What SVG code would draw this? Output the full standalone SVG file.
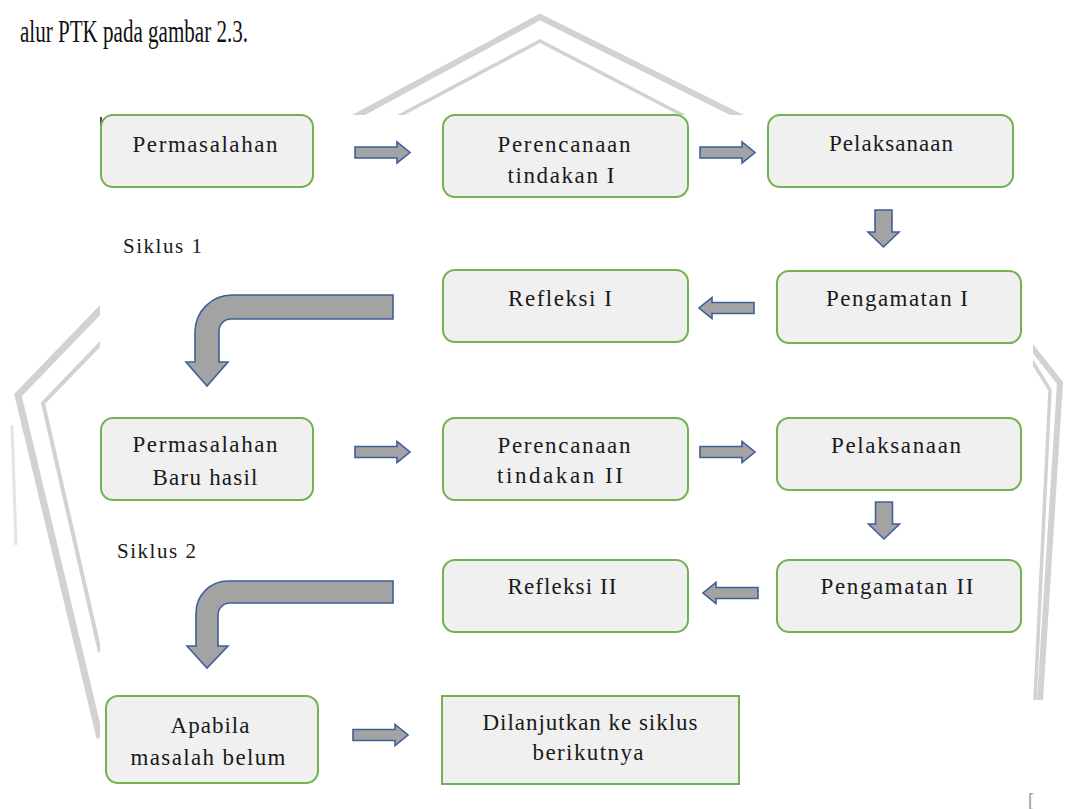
<svg xmlns="http://www.w3.org/2000/svg" width="1065" height="809" viewBox="0 0 1065 809">
<style>
.bg{fill:#ffffff}
.wm{fill:none;stroke:#d2d2d2;stroke-linejoin:miter}
.box{fill:#f0f0f0;stroke:#74b24f;stroke-width:2}
.t{font-family:"Liberation Serif","Times New Roman",serif;font-size:23px;fill:#1a1a1a;text-anchor:middle}
.lbl{font-family:"Liberation Serif","Times New Roman",serif;font-size:21px;fill:#1a1a1a}
.arr{fill:#a3a3a3;stroke:#3f5f98;stroke-width:1.6;stroke-linejoin:miter}
</style>
<defs>
<path id="ra" d="M0,-5.5 H42 V-10.5 L55,0 L42,10.5 V5.5 H0 Z"/>
<path id="da" d="M-8.5,0 H8.5 V22 H15.5 L0,37 L-15.5,22 H-8.5 Z"/>
</defs>
<rect class="bg" x="0" y="0" width="1065" height="809"/>
<g id="watermark">
<polyline class="wm" stroke-width="6" points="353,118 540,17 743,118"/>
<polyline class="wm" stroke-width="3.5" points="395,118 540,41 688,118"/>
<polyline class="wm" stroke-width="7" points="104,306 18,395 100,738"/>
<polyline class="wm" stroke-width="4" points="104,340 43,403 100,652"/>
<polyline class="wm" stroke-width="3" opacity="0.6" points="12,425 16,545"/>
<polyline class="wm" stroke-width="6" points="1030,345 1060,383 1040,700"/>
<polyline class="wm" stroke-width="3.5" points="1030,358 1050,390 1035,700"/>
</g>
<rect class="bg" x="100" y="115" width="933" height="694"/>
<line x1="101" y1="117" x2="101" y2="125" stroke="#111" stroke-width="1.5"/>
<line x1="101" y1="125" x2="101" y2="133" stroke="#9a4ad8" stroke-width="1.5"/>
<text x="20" y="42" style="font-family:'Liberation Serif','Times New Roman',serif;font-size:31px" fill="#111" textLength="228" lengthAdjust="spacingAndGlyphs">alur PTK pada gambar 2.3.</text>
<text x="1028" y="806" font-family="Liberation Sans, Arial, sans-serif" font-size="18" fill="#9a9a9a">[</text>

<g id="connectors">
<use href="#ra" class="arr" transform="translate(355,152.5)"/>
<use href="#ra" class="arr" transform="translate(700,152.5)"/>
<use href="#da" class="arr" transform="translate(883.5,210)"/>
<use href="#ra" class="arr" transform="translate(754,308) scale(-1,1)"/>
<path class="arr" d="M393,295 H232 A37,37 0 0 0 195,332 V362 H186 L207,386 L228,362 H219 V331 A12,12 0 0 1 231,319 H393 Z"/>
<use href="#ra" class="arr" transform="translate(355,452)"/>
<use href="#ra" class="arr" transform="translate(700,452)"/>
<use href="#da" class="arr" transform="translate(884,502)"/>
<use href="#ra" class="arr" transform="translate(758,593) scale(-1,1)"/>
<path class="arr" d="M393,581 H228 A32,32 0 0 0 196,613 V646 H187 L207,668 L228,646 H218 V615 A12,12 0 0 1 230,603 H393 Z"/>
<use href="#ra" class="arr" transform="translate(353,735)"/>
</g>

<g id="n-permasalahan1">
<rect class="box" x="101" y="115" width="212" height="72" rx="12"/>
<text class="t" x="205" y="152" textLength="145" lengthAdjust="spacing">Permasalahan</text>
</g>
<g id="n-perencanaan1">
<rect class="box" x="443" y="115" width="245" height="82" rx="12"/>
<text class="t" x="564" y="152" textLength="133" lengthAdjust="spacing">Perencanaan</text>
<text class="t" x="561" y="183" textLength="107" lengthAdjust="spacing">tindakan I</text>
</g>
<g id="n-pelaksanaan1">
<rect class="box" x="768" y="115" width="245" height="72" rx="12"/>
<text class="t" x="891" y="151" textLength="124" lengthAdjust="spacing">Pelaksanaan</text>
</g>
<text class="lbl" x="123" y="253" textLength="79" lengthAdjust="spacing">Siklus 1</text>
<g id="n-refleksi1">
<rect class="box" x="443" y="270" width="245" height="72" rx="12"/>
<text class="t" x="560" y="306" textLength="104" lengthAdjust="spacing">Refleksi I</text>
</g>
<g id="n-pengamatan1">
<rect class="box" x="777" y="271" width="244" height="72" rx="12"/>
<text class="t" x="897" y="306" textLength="142" lengthAdjust="spacing">Pengamatan I</text>
</g>
<g id="n-permasalahan2">
<rect class="box" x="101" y="418" width="212" height="82" rx="12"/>
<text class="t" x="205" y="452" textLength="145" lengthAdjust="spacing">Permasalahan</text>
<text class="t" x="205" y="485" textLength="105" lengthAdjust="spacing">Baru hasil</text>
</g>
<g id="n-perencanaan2">
<rect class="box" x="443" y="418" width="245" height="82" rx="12"/>
<text class="t" x="564" y="453" textLength="133" lengthAdjust="spacing">Perencanaan</text>
<text class="t" x="560" y="483" textLength="126" lengthAdjust="spacing">tindakan II</text>
</g>
<g id="n-pelaksanaan2">
<rect class="box" x="777" y="418" width="244" height="72" rx="12"/>
<text class="t" x="896" y="453" textLength="130" lengthAdjust="spacing">Pelaksanaan</text>
</g>
<text class="lbl" x="117" y="558" textLength="79" lengthAdjust="spacing">Siklus 2</text>
<g id="n-refleksi2">
<rect class="box" x="443" y="560" width="245" height="72" rx="12"/>
<text class="t" x="562" y="594" textLength="109" lengthAdjust="spacing">Refleksi II</text>
</g>
<g id="n-pengamatan2">
<rect class="box" x="777" y="560" width="244" height="72" rx="12"/>
<text class="t" x="897" y="594" textLength="153" lengthAdjust="spacing">Pengamatan II</text>
</g>
<g id="n-apabila">
<rect class="box" x="106" y="696" width="212" height="87" rx="12"/>
<text class="t" x="210" y="733" textLength="79" lengthAdjust="spacing">Apabila</text>
<text class="t" x="208" y="765" textLength="155" lengthAdjust="spacing">masalah belum</text>
</g>
<g id="n-dilanjutkan">
<rect class="box" x="442" y="696" width="297" height="88"/>
<text class="t" x="590" y="730" textLength="215" lengthAdjust="spacing">Dilanjutkan ke siklus</text>
<text class="t" x="588" y="760" textLength="111" lengthAdjust="spacing">berikutnya</text>
</g>
</svg>
